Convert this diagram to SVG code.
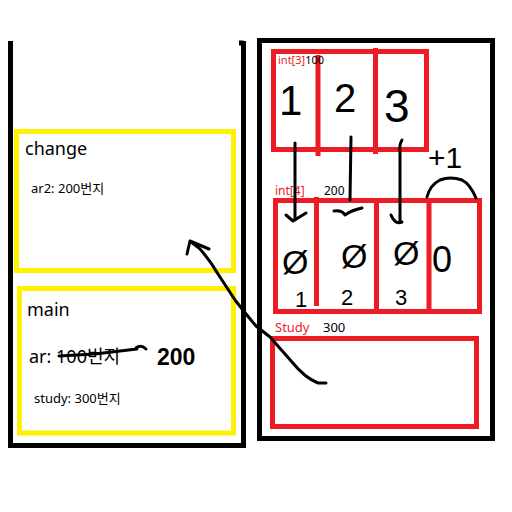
<svg xmlns="http://www.w3.org/2000/svg" width="512" height="512" viewBox="0 0 512 512">
<style>
.blk{fill:none;stroke:#000;stroke-width:5}
.yel{fill:none;stroke:#fff200;stroke-width:5}
.red{fill:none;stroke:#ed1c24;stroke-width:5}
.pen{fill:none;stroke:#000;stroke-width:3;stroke-linecap:round;stroke-linejoin:round}
.t{font-family:"Noto Sans","Noto Sans CJK KR",sans-serif;fill:#000}
.r{fill:#ed1c24}
.h{font-family:"Liberation Sans",sans-serif;fill:#000}
</style>
<rect width="512" height="512" fill="#fff"/>
<g id="stack">
<path class="blk" d="M10.5 41V445.5H243.5V41M239 43H243.5"/>
</g>
<g id="heap">
<rect class="blk" x="259.5" y="40.5" width="233" height="398"/>
</g>
<g id="change">
<rect class="yel" x="16.5" y="131.5" width="217" height="139"/>
<text class="t" x="25" y="155" font-size="18">change</text>
<text class="t" x="31" y="193" font-size="13">ar2: 200번지</text>
</g>
<g id="main">
<rect class="yel" x="19.5" y="288.5" width="214" height="144.5"/>
<text class="t" x="27" y="316" font-size="18">main</text>
<text class="t" x="29" y="363" font-size="18">ar: 100번지</text>
<path class="pen" d="M59 356L95 354L120 351L137 349M136 348Q141 344 146 349"/>
<text class="h" x="157" y="365" font-size="23" font-weight="bold">200</text>
<text class="t" x="34" y="403" font-size="13">study: 300번지</text>
</g>
<g id="int3">
<rect class="red" x="273.5" y="51.5" width="153" height="98"/>
<path class="red" d="M318 55V156M375.5 48V154"/>
<text class="t" x="278" y="64" font-size="11"><tspan class="r">int[3]</tspan>100</text>
<text class="h" x="279" y="115" font-size="42">1</text>
<text class="h" x="334" y="112" font-size="40">2</text>
<text class="h" x="384" y="122" font-size="46">3</text>
</g>
<g id="int4">
<rect class="red" x="275.5" y="200.5" width="204" height="111"/>
<path class="red" d="M316.5 197V306M376.5 203V311M429 200V311"/>
<text class="t" x="275" y="195" font-size="12"><tspan class="r">int[4]</tspan></text>
<text class="t" x="324" y="195" font-size="12">200</text>
<text class="h" x="282" y="274" font-size="34">Ø</text>
<text class="h" x="341" y="268" font-size="34">Ø</text>
<text class="h" x="393" y="265" font-size="34">Ø</text>
<text class="h" x="432" y="272" font-size="36">0</text>
<text class="h" x="295" y="307" font-size="22">1</text>
<text class="h" x="341" y="305" font-size="22">2</text>
<text class="h" x="395" y="305" font-size="22">3</text>
<text class="h" x="428" y="168" font-size="30">+1</text>
<path class="pen" d="M427 197Q430 185 440 180Q450 176 462 180Q470 184 476 198"/>
</g>
<g id="study">
<rect class="red" x="272.5" y="338.5" width="204" height="88"/>
<text class="t r" x="275" y="332" font-size="13">Study</text>
<text class="t" x="323" y="332" font-size="13">300</text>
</g>
<g id="connectors">
<path class="pen" d="M295 143V220M286 215L293 221L306 213"/>
<path class="pen" d="M351 137L350 200M334 211Q342 210 345 215Q352 210 362 208"/>
<path class="pen" d="M402 140Q399 145 400 152V222M391 215Q395 225 402 222"/>
<path class="pen" d="M326 383L318 383Q305 378 292 362L270 337L256 326Q245 313 235 300L218 274Q210 260 199 248L191 242M190 241L187 254M190 241L209 249"/>
</g>
</svg>
